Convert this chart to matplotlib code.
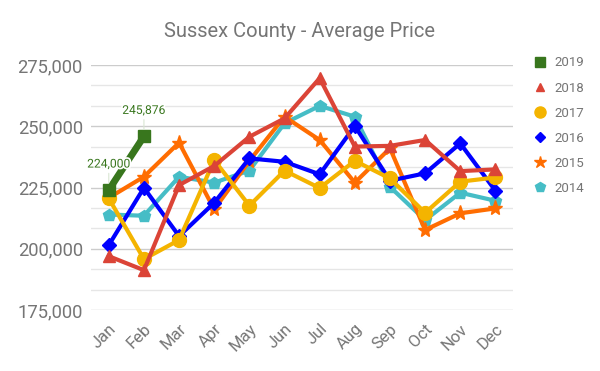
import matplotlib
matplotlib.use("Agg")
import matplotlib.pyplot as plt
import matplotlib.patheffects as pe
from matplotlib.ticker import FuncFormatter, MultipleLocator

plt.rcParams['font.family'] = ['Roboto', 'DejaVu Sans']

# Month labels and average prices per year
months = ['Jan', 'Feb', 'Mar', 'Apr', 'May', 'Jun', 'Jul', 'Aug', 'Sep', 'Oct', 'Nov', 'Dec']
price_2019 = [224000, 245876]
price_2018 = [197000, 191300, 226000, 233800, 245700, 253200, 269600, 241700, 242000, 244400, 231700, 232400]
price_2017 = [220600, 195800, 203600, 236200, 217600, 231900, 224800, 235900, 228700, 214700, 227400, 229100]
price_2016 = [201500, 224900, 205200, 218800, 236900, 235500, 230400, 250100, 227800, 230800, 243000, 223700]
price_2015 = [220800, 229400, 243300, 216100, 235900, 253900, 244400, 227000, 241000, 207700, 214500, 216500]
price_2014 = [214000, 213500, 229400, 227000, 231900, 251200, 258300, 253900, 225300, 211700, 222900, 219600]

fig = plt.figure(figsize=(6, 3.71), dpi=100)
ax = fig.add_axes([0.152, 0.164, 0.703, 0.661])

x = list(range(len(months)))

# draw older years first so 2019 ends up on top
ax.plot(x, price_2014, color='#46bdc6', lw=3, marker='p', ms=9, label='2014', zorder=3)
ax.plot(x, price_2015, color='#ff6d01', lw=3, marker='*', ms=11, label='2015', zorder=4)
ax.plot(x, price_2016, color='#0000ff', lw=3, marker='D', ms=7, label='2016', zorder=5)
ax.plot(x, price_2017, color='#f4b400', lw=3, marker='o', ms=10, label='2017', zorder=6)
ax.plot(x, price_2018, color='#db4437', lw=3, marker='^', ms=8, label='2018', zorder=7)
ax.plot(x[:2], price_2019, color='#38761d', lw=5, marker='s', ms=9, label='2019', zorder=8)

# data labels for 2019 with a white halo so they stay readable over the line
for i, v in enumerate(price_2019):
    ax.annotate(f'{v:,}', (x[i], v), xytext=(0, 14), textcoords='offset points',
                ha='center', va='bottom', fontsize=8.7, color='#38761d', zorder=10,
                path_effects=[pe.withStroke(linewidth=2.5, foreground='white')],
                arrowprops=dict(arrowstyle='-', color='#d9e6d3', lw=0.8, shrinkA=0, shrinkB=5))

ax.set_xlim(-0.5, 11.5)
ax.set_ylim(175000, 275000)
ax.yaxis.set_major_locator(MultipleLocator(25000))
ax.yaxis.set_minor_locator(MultipleLocator(25000 / 3))
ax.yaxis.set_major_formatter(FuncFormatter(lambda v, p: f'{int(v):,}'))
ax.grid(axis='y', which='major', color='#cccccc', lw=1)
ax.grid(axis='y', which='minor', color='#e6e6e6', lw=1)
ax.set_axisbelow(True)

ax.set_xticks(x)
ax.set_xticklabels(months, rotation=45, ha='right', rotation_mode='anchor')
ax.tick_params(axis='x', length=0, labelsize=12, colors='#757575', pad=8)
ax.tick_params(axis='y', which='both', length=0, labelsize=13.2, colors='#757575', pad=6)
for s in ax.spines.values():
    s.set_visible(False)

fig.text(0.5, 0.915, 'Sussex County - Average Price', ha='center', va='center',
         fontsize=14.5, color='#757575')

handles, labels = ax.get_legend_handles_labels()
leg = fig.legend(handles[::-1], labels[::-1], loc='upper left', bbox_to_anchor=(0.88, 0.88),
                 frameon=False, fontsize=9.5, labelcolor='#757575', handlelength=0,
                 handletextpad=1.1, labelspacing=0.92, markerscale=0.8)
for h in leg.legend_handles:
    h.set_linestyle('None')

fig.savefig('out.png', dpi=100)
